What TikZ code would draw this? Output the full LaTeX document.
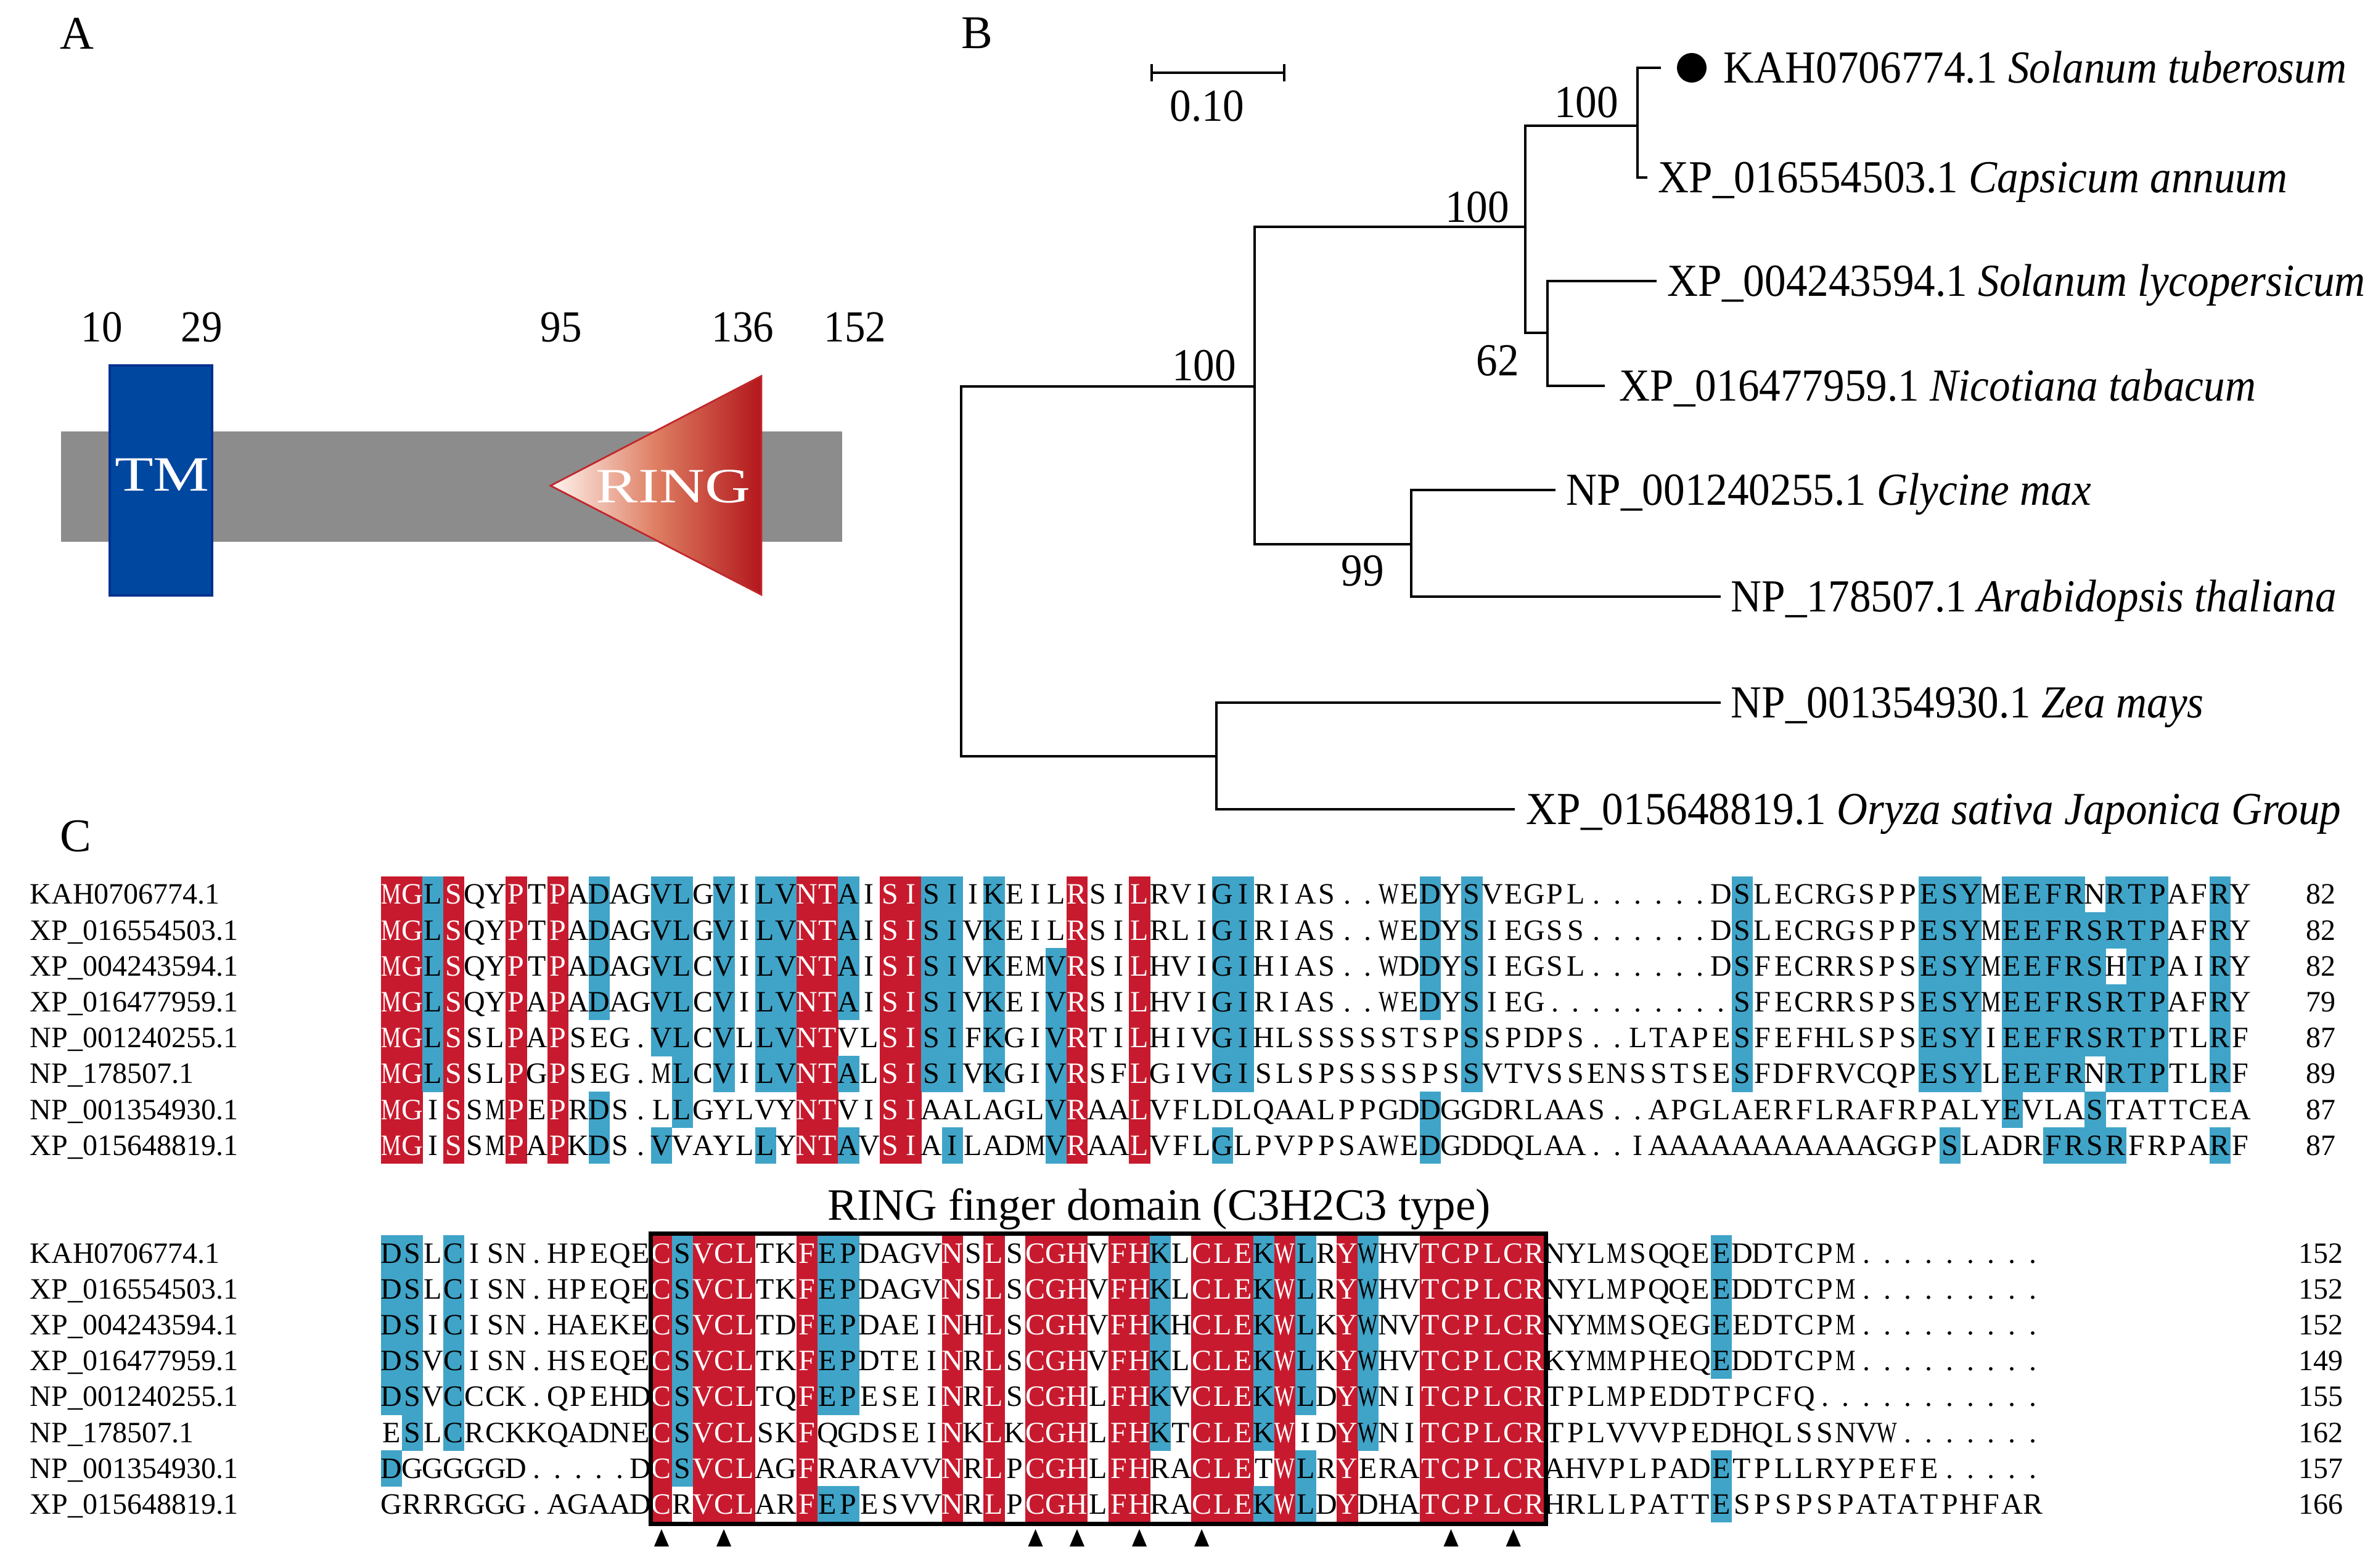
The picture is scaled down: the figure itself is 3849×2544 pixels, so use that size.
\documentclass[tikz,border=0pt]{standalone}
\usepackage{fontspec}
\setmainfont{Liberation Serif}
\newfontfamily\condfont[FakeStretch=0.93]{Liberation Serif}
\usepackage{graphicx}

\definecolor{alnred}{HTML}{C81A2E}
\definecolor{alnblue}{HTML}{40A4C8}
\definecolor{tmblue}{HTML}{0047A0}
\definecolor{tmedge}{HTML}{00318F}
\definecolor{barg}{HTML}{8C8C8C}
\definecolor{ringdark}{HTML}{B3171C}
\definecolor{ringmid}{HTML}{DE7E62}
\definecolor{ringlight}{HTML}{FFF4F0}
\definecolor{ringedge}{HTML}{C0282C}

\tikzset{
  res/.style={font=\fontsize{12}{12}\selectfont, inner sep=0pt, anchor=base},
  seqname/.style={font=\fontsize{12}{12}\selectfont, inner sep=0pt, anchor=base west},
  seqnum/.style={font=\fontsize{12}{12}\selectfont, inner sep=0pt, anchor=base},
  branch/.style={line width=1.1pt},
  leaflabel/.style={font=\condfont\fontsize{18.6}{19}\selectfont, inner sep=0pt, anchor=base west},
  boot/.style={font=\condfont\fontsize{18.6}{19}\selectfont, inner sep=0pt},
  panel/.style={font=\fontsize{19}{19}\selectfont, inner sep=0pt, anchor=base},
  poslabel/.style={font=\condfont\fontsize{18}{18}\selectfont, inner sep=0pt, anchor=base},
  domtext/.style={font=\fontsize{20}{20}\selectfont, inner sep=0pt, anchor=base, text=white},
  titletext/.style={font=\fontsize{18.2}{19}\selectfont, inner sep=0pt, anchor=base},
}

\newcommand\alnglyph[1]{\if M#1\scalebox{0.76}[1]{M}\else\if W#1\scalebox{0.72}[1]{W}\else #1\fi\fi}

\newcommand\alncell[6]{%
  \pgfmathsetmacro\alncx{618+33.7*(#2-1)}%
  \if f#1%
    \if r#5\fill[alnred] (\alncx,#3) rectangle ++(34.3,58.8);\fi
    \if b#5\fill[alnblue] (\alncx,#3) rectangle ++(34.3,58.8);\fi
  \else
    \if r#5\def\alntc{white}\else\def\alntc{black}\fi
    \node[res,text=\alntc] (#6c#2) at (\alncx+16.85,#3+45) {\alnglyph{#4}};
  \fi}

\ExplSyntaxOn
\int_new:N \l_rkaln_col_int
\NewDocumentCommand \alnrow { m m m m m }
  {
    \int_zero:N \l_rkaln_col_int
    \tl_map_inline:nn {#3}
      {
        \int_incr:N \l_rkaln_col_int
        \use:e
          {
            \exp_not:N \alncell {#1} { \int_use:N \l_rkaln_col_int } {#2} {##1}
              { \tl_item:nn {#4} { \l_rkaln_col_int } } {#5}
          }
      }
  }
\ExplSyntaxOff

\newcommand\alldata[1]{%
\alnrow{#1}{1422.0}{MGLSQYPTPA DAGVLGVILV NTAISISIIK EILRSILRVI GIRIAS..WE DYSVEGPL.. ....DSLECR GSPPESYMEE FRNRTPAFRY}%
{rrbrwwrwrw bwwbbwbwbb rrbwrrbbwb wwwrwwrwww bbwwwwwwww bwbwwwwwww wwwwwbwwww wwwwbbbwbb bbwbbbwwbw}{aa}%
\alnrow{#1}{1480.2}{MGLSQYPTPA DAGVLGVILV NTAISISIVK EILRSILRLI GIRIAS..WE DYSIEGSS.. ....DSLECR GSPPESYMEE FRSRTPAFRY}%
{rrbrwwrwrw bwwbbwbwbb rrbwrrbbwb wwwrwwrwww bbwwwwwwww bwbwwwwwww wwwwwbwwww wwwwbbbwbb bbbbbbwwbw}{ab}%
\alnrow{#1}{1538.4}{MGLSQYPTPA DAGVLCVILV NTAISISIVK EMVRSILHVI GIHIAS..WD DYSIEGSL.. ....DSFECR RSPSESYMEE FRSHTPAIRY}%
{rrbrwwrwrw bwwbbwbwbb rrbwrrbbwb wwbrwwrwww bbwwwwwwww bwbwwwwwww wwwwwbwwww wwwwbbbwbb bbbwbbwwbw}{ac}%
\alnrow{#1}{1596.6}{MGLSQYPAPA DAGVLCVILV NTAISISIVK EIVRSILHVI GIRIAS..WE DYSIEG.... .....SFECR RSPSESYMEE FRSRTPAFRY}%
{rrbrwwrwrw bwwbbwbwbb rrbwrrbbwb wwbrwwrwww bbwwwwwwww bwbwwwwwww wwwwwbwwww wwwwbbbwbb bbbbbbwwbw}{ad}%
\alnrow{#1}{1654.8}{MGLSSLPAPS EG.VLCVLLV NTVLSISIFK GIVRTILHIV GIHLSSSSST SPSSPDPS.. LTAPESFEFH LSPSESYIEE FRSRTPTLRF}%
{rrbrwwrwrw wwwbbwbwbb rrwwrrbbwb wwbrwwrwww bbwwwwwwww wwbwwwwwww wwwwwbwwww wwwwbbbwbb bbbbbbwwbw}{ae}%
\alnrow{#1}{1713.0}{MGLSSLPGPS EG.MLCVILV NTALSISIVK GIVRSFLGIV GISLSPSSSS PSSVTVSSEN SSTSESFDFR VCQPESYLEE FRNRTPTLRF}%
{rrbrwwrwrw wwwwbwbwbb rrbwrrbbwb wwbrwwrwww bbwwwwwwww wwbwwwwwww wwwwwbwwww wwwwbbbwbb bbwbbbwwbw}{af}%
\alnrow{#1}{1771.2}{MGISSMPEPR DS.LLGYLVY NTVISIAALA GLVRAALVFL DLQAALPPGD DGGDRLAAS. .APGLAERFL RAFRPALYEV LASTATTCEA}%
{rrwrwwrwrw bwwwbwwwww rrwwrrwwww wwbrwwrwww wwwwwwwwww bwwwwwwwww wwwwwwwwww wwwwwwwwbw wwbwwwwwww}{ag}%
\alnrow{#1}{1829.4}{MGISSMPAPK DS.VVAYLLY NTAVSIAILA DMVRAALVFL GLPVPPSAWE DGDDQLAA.. IAAAAAAAAA AAGGPSLADR FRSRFRPARF}%
{rrwrwwrwrw bwwbwwwwbw rrbwrrwbww wwbrwwrwww bwwwwwwwww bwwwwwwwww wwwwwwwwww wwwwwbwwww bbbbwwwwbw}{ah}%
\alnrow{#1}{2004.0}{DSLCISN.HP EQECSVCLTK FEPDAGVNSL SCGHVFHKLC LEKWLRYWHV TCPLCRNYLM SQQEEDDTCP M.........}%
{bbwbwwwwww wwwrbrrrww rbbwwwwrwr wrrrwrrbwr rrbrbwrbww rrrrrrwwww wwwwbwwwww wwwwwwwwww}{ba}%
\alnrow{#1}{2062.2}{DSLCISN.HP EQECSVCLTK FEPDAGVNSL SCGHVFHKLC LEKWLRYWHV TCPLCRNYLM PQQEEDDTCP M.........}%
{bbwbwwwwww wwwrbrrrww rbbwwwwrwr wrrrwrrbwr rrbrbwrbww rrrrrrwwww wwwwbwwwww wwwwwwwwww}{bb}%
\alnrow{#1}{2120.4}{DSICISN.HA EKECSVCLTD FEPDAEINHL SCGHVFHKHC LEKWLKYWNV TCPLCRNYMM SQEGEEDTCP M.........}%
{bbwbwwwwww wwwrbrrrww rbbwwwwrwr wrrrwrrbwr rrbrbwrbww rrrrrrwwww wwwwbwwwww wwwwwwwwww}{bc}%
\alnrow{#1}{2178.6}{DSVCISN.HS EQECSVCLTK FEPDTEINRL SCGHVFHKLC LEKWLKYWHV TCPLCRKYMM PHEQEDDTCP M.........}%
{bbwbwwwwww wwwrbrrrww rbbwwwwrwr wrrrwrrbwr rrbrbwrbww rrrrrrwwww wwwwbwwwww wwwwwwwwww}{bd}%
\alnrow{#1}{2236.8}{DSVCCCK.QP EHDCSVCLTQ FEPESEINRL SCGHLFHKVC LEKWLDYWNI TCPLCRTPLM PEDDTPCFQ. ..........}%
{bbwbwwwwww wwwrbrrrww rbbwwwwrwr wrrrwrrbwr rrbrbwrbww rrrrrrwwww wwwwwwwwww wwwwwwwwww}{be}%
\alnrow{#1}{2295.0}{ESLCRCKKQA DNECSVCLSK FQGDSEINKL KCGHLFHKTC LEKWIDYWNI TCPLCRTPLV VVPEDHQLSS NVW.......}%
{wbwbwwwwww wwwrbrrrww rwwwwwwrwr wrrrwrrbwr rrbrwwrbww rrrrrrwwww wwwwwwwwww wwwwwwwwww}{bf}%
\alnrow{#1}{2353.2}{DGGGGGD... ..DCSVCLAG FRARAVVNRL PCGHLFHRAC LETWLRYERA TCPLCRAHVP LPADETPLLR YPEFE.....}%
{bwwwwwwwww wwwrbrrrww rwwwwwwrwr wrrrwrrwwr rrwrbwrwww rrrrrrwwww wwwwbwwwww wwwwwwwwww}{bg}%
\alnrow{#1}{2411.4}{GRRRGGG.AG AADCRVCLAR FEPESVVNRL PCGHLFHRAC LEKWLDYDHA TCPLCRHRLL PATTESPSPS PATATPHFAR}%
{wwwwwwwwww wwwrwrrrww rbbwwwwrwr wrrrwrrwwr rrbrbwrwww rrrrrrwwww wwwwbwwwww wwwwwwwwww}{bh}%
}

\begin{document}
\begin{tikzpicture}[x=0.25pt,y=-0.25pt]
\useasboundingbox (0,0) rectangle (3849,2544);

% ---------------- Panel A ----------------
\node[panel] (labA) at (125,80) {A};
\fill[barg] (99,700) rectangle (1366,879);
\filldraw[fill=tmblue, draw=tmedge, line width=0.8pt] (178,593) rectangle (344,966);
\node[domtext] (tm) at (263,797) {\scalebox{1.28}[1]{TM}};
\coordinate (ringApex) at (893,788);
\coordinate (ringTop) at (1235,610);
\coordinate (ringBot) at (1235,965);
\shade[left color=ringlight, right color=ringdark, middle color=ringmid] (ringApex) -- (ringTop) -- (ringBot) -- cycle;
\draw[ringedge, line width=0.7pt] (ringApex) -- (ringTop) -- (ringBot) -- cycle;
\node[domtext] (ring) at (1092,816) {\scalebox{1.28}[1]{RING}};
\node[poslabel] (p10) at (165,555) {10};
\node[poslabel] (p29) at (327,555) {29};
\node[poslabel] (p95) at (910,555) {95};
\node[poslabel] (p136) at (1205,555) {136};
\node[poslabel] (p152) at (1387,555) {152};

% ---------------- Panel B ----------------
\node[panel] (labB) at (1585,79) {B};
\coordinate (sbL) at (1868,118);
\coordinate (sbR) at (2083,118);
\draw[branch] (sbL) -- (sbR);
\draw[branch] ([yshift=-3.4pt]sbL) -- ([yshift=3.4pt]sbL);
\draw[branch] ([yshift=-3.4pt]sbR) -- ([yshift=3.4pt]sbR);
\node[boot, anchor=base] (sblab) at (1958,197) {0.10};

\coordinate (root) at (1559,927);
\coordinate (nA) at (2035,627);
\coordinate (nM) at (1973,1227);
\coordinate (nS) at (2474,368);
\coordinate (nGA) at (2289,883);
\coordinate (nSC) at (2656,204);
\coordinate (nNT) at (2510,540);
\coordinate (lKAH) at (2694,110);
\coordinate (lCap) at (2672,288);
\coordinate (lLyc) at (2687,456);
\coordinate (lNic) at (2603,626);
\coordinate (lGly) at (2523,795);
\coordinate (lAra) at (2791,968);
\coordinate (lZea) at (2791,1140);
\coordinate (lOry) at (2457,1313);

\draw[branch] (root) |- (nA);
\draw[branch] (root) |- (nM);
\draw[branch] (nA) |- (nS);
\draw[branch] (nA) |- (nGA);
\draw[branch] (nS) |- (nSC);
\draw[branch] (nS) |- (nNT);
\draw[branch] (nSC) |- (lKAH);
\draw[branch] (nSC) |- (lCap);
\draw[branch] (nNT) |- (lLyc);
\draw[branch] (nNT) |- (lNic);
\draw[branch] (nGA) |- (lGly);
\draw[branch] (nGA) |- (lAra);
\draw[branch] (nM) |- (lZea);
\draw[branch] (nM) |- (lOry);

\node[circle, fill=black, inner sep=0pt, minimum size=12pt] (dot) at (2744,110) {};

\node[leaflabel] (tKAH) at (2795,135) {KAH0706774.1 \textit{Solanum tuberosum}};
\node[leaflabel] (tCap) at (2689,313) {XP\_016554503.1 \textit{Capsicum annuum}};
\node[leaflabel] (tLyc) at (2704,481) {XP\_004243594.1 \textit{Solanum lycopersicum}};
\node[leaflabel] (tNic) at (2626,651) {XP\_016477959.1 \textit{Nicotiana tabacum}};
\node[leaflabel] (tGly) at (2540,820) {NP\_001240255.1 \textit{Glycine max}};
\node[leaflabel] (tAra) at (2807,993) {NP\_178507.1 \textit{Arabidopsis thaliana}};
\node[leaflabel] (tZea) at (2807,1165) {NP\_001354930.1 \textit{Zea mays}};
\node[leaflabel] (tOry) at (2475,1338) {XP\_015648819.1 \textit{Oryza sativa Japonica Group}};

\node[boot] (bs1) at (2573,166) {100};
\node[boot] (bs2) at (2396,336) {100};
\node[boot] (bs3) at (1953,593) {100};
\node[boot] (bs4) at (2429,585) {62};
\node[boot] (bs5) at (2210,926) {99};

% ---------------- Panel C ----------------
\node[panel] (labC) at (123,1382) {C};

\alldata{f}
\alldata{t}

\foreach \nm [count=\i] in {KAH0706774.1, XP\_016554503.1, XP\_004243594.1, XP\_016477959.1, NP\_001240255.1, NP\_178507.1, NP\_001354930.1, XP\_015648819.1}{
  \node[seqname] (nameA\i) at (48,{1467+58.2*(\i-1)}) {\nm};
  \node[seqname] (nameB\i) at (48,{2049+58.2*(\i-1)}) {\nm};
}
\foreach \v [count=\i] in {82,82,82,79,87,89,87,87}{
  \node[seqnum] (numA\i) at (3764,{1467+58.2*(\i-1)}) {\v};
}
\foreach \v [count=\i] in {152,152,152,149,155,162,157,166}{
  \node[seqnum] (numB\i) at (3764,{2049+58.2*(\i-1)}) {\v};
}

\node[titletext] (ringtitle) at (1880,1980) {RING finger domain (C3H2C3 type)};
\draw[line width=1.75pt] (1055,2002) rectangle (2507,2472);

\foreach \c in {14,17,32,34,37,40,52,55}{
  \fill ({618+33.7*(\c-0.5)},2481) -- ++(12,28) -- ++(-24,0) -- cycle;
}
\end{tikzpicture}
\end{document}
